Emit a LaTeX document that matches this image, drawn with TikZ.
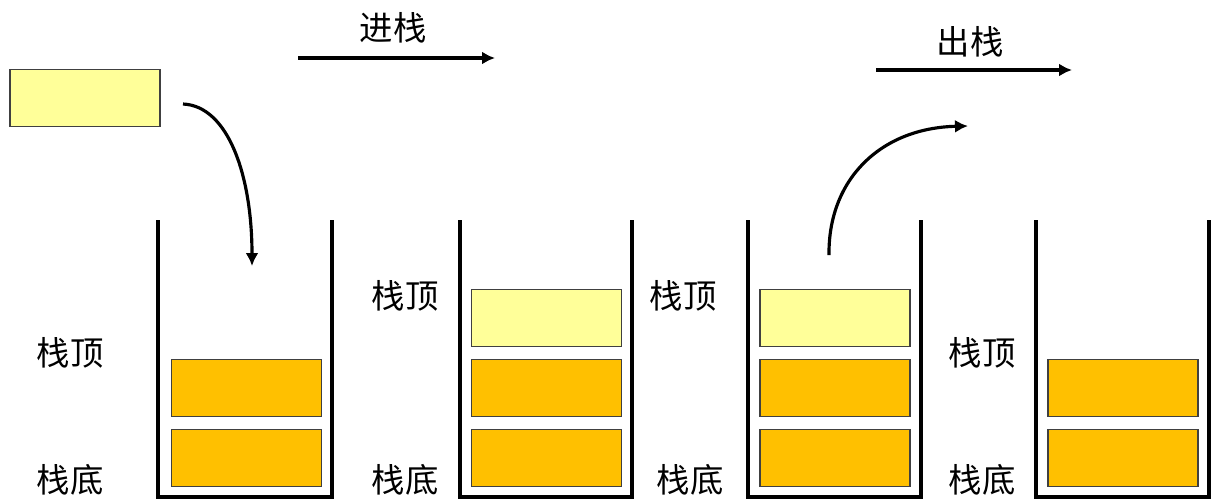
\documentclass[tikz,border=0pt]{standalone}
\usepackage{fontspec}
\newfontfamily\cjk{Noto Sans CJK SC}
\usetikzlibrary{arrows.meta,positioning}
\definecolor{newYellow}{HTML}{FFFF99}
\definecolor{oldOrange}{HTML}{FFC000}
\tikzset{%
    >={Latex[width=2.6mm,length=2.6mm]},
    base/.style = {
        rectangle, draw=black!75, line width=0.8pt, minimum width=3cm,
        minimum height=1.14cm, inner sep=0pt
    },
    newElem/.style = {base, fill=newYellow},
    oldElem/.style = {base, fill=oldOrange},
    tag/.style = {font=\cjk\fontsize{19}{22}\selectfont, inner sep=0pt},
    wall/.style = {line width=2.6pt},
    flow/.style = {->, line width=1.8pt},
}

\begin{document}
\begin{tikzpicture}[x=0.02cm, y=-0.02cm, node distance=0.23cm]
        \useasboundingbox (0,0) rectangle (1216,501);

        % Stack walls
        \draw[wall] (158,220) -- (158,497) -- (332,497) -- (332,220);
        \draw[wall] (460,220) -- (460,497) -- (632,497) -- (632,220);
        \draw[wall] (748,220) -- (748,497) -- (921,497) -- (921,220);
        \draw[wall] (1036,220) -- (1036,497) -- (1209,497) -- (1209,220);

        % Nodes position
        \node (newElem)  [newElem] at (85,98) {};

        \node (bottomA)  [oldElem] at (246.5,458) {};
        \node (topA)     [oldElem, above=of bottomA] {};

        \node (bottomB)  [oldElem] at (546.5,458) {};
        \node (midB)     [oldElem, above=of bottomB] {};
        \node (topB)     [newElem, above=of midB] {};

        \node (bottomC)  [oldElem] at (835,458) {};
        \node (midC)     [oldElem, above=of bottomC] {};
        \node (topC)     [newElem, above=of midC] {};

        \node (bottomD)  [oldElem] at (1123,458) {};
        \node (topD)     [oldElem, above=of bottomD] {};

        % Labels
        \node (topLblA)    [tag] at (70,353) {栈顶};
        \node (bottomLblA) [tag] at (70,480) {栈底};
        \node (topLblB)    [tag] at (405,296) {栈顶};
        \node (bottomLblB) [tag] at (405,480) {栈底};
        \node (topLblC)    [tag] at (683,296) {栈顶};
        \node (bottomLblC) [tag] at (690,480) {栈底};
        \node (topLblD)    [tag] at (982,353) {栈顶};
        \node (bottomLblD) [tag] at (982,480) {栈底};

        \node (pushLbl)  [tag] at (393,28) {进栈};
        \node (popLbl)   [tag] at (970,42) {出栈};

        % Arrow specification
        \coordinate (pushStart) at (298,58);
        \coordinate (pushEnd)   at (495,58);
        \coordinate (popStart)  at (876,70);
        \coordinate (popEnd)    at (1072,70);
        \coordinate (inStart)   at (183,104);
        \coordinate (inEnd)     at (252,266);
        \coordinate (outStart)  at (829,255);
        \coordinate (outEnd)    at (968,126);

        \draw[flow] (pushStart) -- (pushEnd);
        \draw[flow] (popStart) -- (popEnd);
        \draw[flow] (inStart) .. controls (228,106) and (252,175) .. (inEnd);
        \draw[flow] (outStart) .. controls (828,180) and (880,128) .. (outEnd);
    \end{tikzpicture}
\end{document}
